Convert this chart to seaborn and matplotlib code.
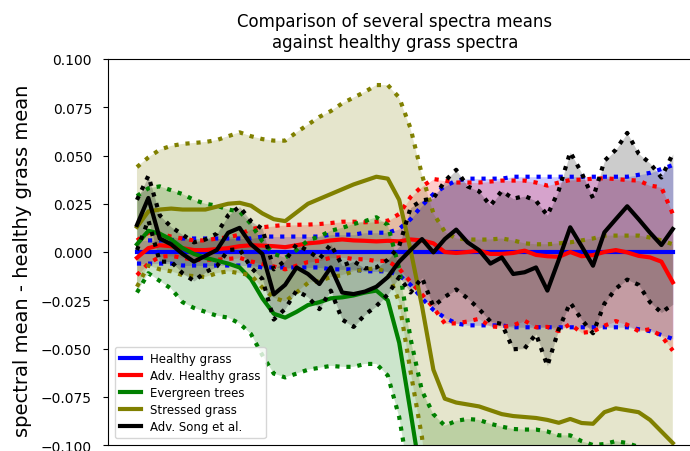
import numpy as np
import pandas as pd
import matplotlib
matplotlib.use("Agg")
import matplotlib.pyplot as plt
import seaborn as sns

# band index (48 spectral bands)
bands = list(range(48))

healthy_mean = [0.0] * 48
healthy_std = [0.006, 0.006, 0.006, 0.006, 0.007, 0.007, 0.007, 0.007, 0.007, 0.007,
               0.007, 0.008, 0.008, 0.008, 0.008, 0.008, 0.008, 0.009, 0.009, 0.009,
               0.010, 0.010, 0.010, 0.012, 0.017, 0.024, 0.030, 0.034, 0.037, 0.038,
               0.038, 0.038, 0.038, 0.039, 0.039, 0.039, 0.039, 0.039, 0.039, 0.039,
               0.039, 0.039, 0.039, 0.039, 0.040, 0.041, 0.043, 0.045]

adv_healthy_mean = [-0.003, 0.002, 0.0035, 0.003, 0.002, 0.001, 0.001, 0.0015, 0.002, 0.003,
                    0.0035, 0.0033, 0.003, 0.0025, 0.0035, 0.0045, 0.005, 0.006, 0.0065, 0.006,
                    0.0058, 0.0055, 0.0058, 0.0055, 0.0065, 0.006, 0.0045, 0.0, -0.0005, 0.0,
                    0.0007, -0.001, -0.001, -0.0005, 0.0007, -0.0015, -0.0022, -0.0025, 0.0, -0.0022,
                    -0.0016, 0.0, 0.001, -0.0002, -0.002, -0.0028, -0.005, -0.0157]
adv_healthy_std = [0.009, 0.008, 0.006, 0.005, 0.005, 0.005, 0.005, 0.0055, 0.0056, 0.006,
                   0.0084, 0.0095, 0.0105, 0.0115, 0.0106, 0.0097, 0.0095, 0.009, 0.0092, 0.0097,
                   0.0096, 0.0102, 0.0104, 0.0142, 0.022, 0.028, 0.0333, 0.037, 0.0365, 0.036,
                   0.0353, 0.0375, 0.038, 0.0375, 0.0363, 0.0375, 0.0366, 0.0385, 0.0373, 0.0397,
                   0.0396, 0.0382, 0.0368, 0.0375, 0.039, 0.0372, 0.0385, 0.0354]

evergreen_mean = [0.004, 0.011, 0.0095, 0.0065, 0.002, -0.001, -0.003, -0.0045, -0.006, -0.008,
                  -0.014, -0.024, -0.032, -0.034, -0.031, -0.0275, -0.026, -0.024, -0.0235, -0.0225,
                  -0.021, -0.02, -0.025, -0.047, -0.083, -0.12, -0.14, -0.148, -0.152, -0.155,
                  -0.154, -0.156, -0.158, -0.157, -0.159, -0.16, -0.161, -0.16, -0.162, -0.163,
                  -0.162, -0.161, -0.163, -0.164, -0.165, -0.166, -0.168, -0.17]
evergreen_std = [0.025, 0.022, 0.0245, 0.0255, 0.028, 0.028, 0.028, 0.0285, 0.028, 0.029,
                 0.0285, 0.0295, 0.031, 0.031, 0.032, 0.0335, 0.034, 0.035, 0.036, 0.037,
                 0.037, 0.038, 0.039, 0.0385, 0.038, 0.048, 0.056, 0.058, 0.0645, 0.0685,
                 0.067, 0.067, 0.0675, 0.0653, 0.067, 0.068, 0.068, 0.065, 0.067, 0.065,
                 0.062, 0.0615, 0.065, 0.065, 0.064, 0.062, 0.060, 0.058]

stressed_mean = [0.013, 0.021, 0.022, 0.0225, 0.022, 0.022, 0.022, 0.0235, 0.025, 0.0255,
                 0.024, 0.020, 0.017, 0.016, 0.0205, 0.025, 0.0275, 0.030, 0.0325, 0.035,
                 0.037, 0.039, 0.038, 0.027, 0.001, -0.028, -0.061, -0.076, -0.078, -0.079,
                 -0.080, -0.082, -0.084, -0.085, -0.0855, -0.086, -0.087, -0.0885, -0.0865, -0.0886,
                 -0.089, -0.083, -0.081, -0.082, -0.083, -0.087, -0.093, -0.099]
stressed_std = [0.031, 0.028, 0.031, 0.0325, 0.034, 0.0345, 0.035, 0.0345, 0.035, 0.0365,
                0.036, 0.0385, 0.0407, 0.0417, 0.0415, 0.041, 0.0425, 0.043, 0.0445, 0.045,
                0.046, 0.0475, 0.0485, 0.053, 0.063, 0.068, 0.081, 0.0865, 0.085, 0.0855,
                0.0864, 0.0885, 0.091, 0.091, 0.090, 0.090, 0.091, 0.093, 0.0915, 0.0946,
                0.096, 0.0915, 0.0895, 0.0905, 0.0915, 0.0945, 0.099, 0.103]

song_mean = [0.014, 0.028, 0.007, 0.004, -0.001, -0.005, -0.002, 0.001, 0.010, 0.0125,
             0.004, -0.001, -0.022, -0.017, -0.008, -0.0114, -0.0166, -0.008, -0.021, -0.0218,
             -0.0205, -0.018, -0.013, -0.005, 0.001, 0.0067, -0.0002, 0.0067, 0.0116, 0.005,
             0.001, -0.006, -0.0028, -0.0114, -0.0105, -0.008, -0.020, -0.004, 0.0128, 0.003,
             -0.0071, 0.0102, 0.017, 0.0237, 0.017, 0.010, 0.0036, 0.0119]
song_std = [0.013, 0.0115, 0.012, 0.009, 0.010, 0.010, 0.0085, 0.0085, 0.009, 0.011,
            0.012, 0.013, 0.013, 0.0125, 0.012, 0.012, 0.013, 0.012, 0.014, 0.017,
            0.012, 0.010, 0.009, 0.008, 0.022, 0.020, 0.028, 0.030, 0.031, 0.029,
            0.0305, 0.030, 0.0345, 0.039, 0.0395, 0.0345, 0.039, 0.036, 0.039, 0.038,
            0.035, 0.037, 0.036, 0.038, 0.034, 0.036, 0.035, 0.039]

series = [
    ("Healthy grass", healthy_mean, healthy_std, "blue"),
    ("Adv. Healthy grass", adv_healthy_mean, adv_healthy_std, "red"),
    ("Evergreen trees", evergreen_mean, evergreen_std, "green"),
    ("Stressed grass", stressed_mean, stressed_std, "olive"),
    ("Adv. Song et al.", song_mean, song_std, "black"),
]

fig = plt.figure(figsize=(6.9, 4.52), dpi=100)
ax = fig.add_axes([108 / 690, 6 / 452, 594 / 690, 386 / 452])

for name, mean, std, color in series:
    df = pd.DataFrame({"band": bands, "mean": mean, "std": std})
    df["upper"] = df["mean"] + df["std"]
    df["lower"] = df["mean"] - df["std"]
    ax.fill_between(df["band"], df["lower"], df["upper"], color=color, alpha=0.2, linewidth=0)
    sns.lineplot(data=df, x="band", y="mean", color=color, linewidth=3, label=name, ax=ax)
    sns.lineplot(data=df, x="band", y="upper", color=color, linewidth=3, linestyle=":", ax=ax)
    sns.lineplot(data=df, x="band", y="lower", color=color, linewidth=3, linestyle=":", ax=ax)

ax.set_xlim(-2.54, 49.56)
ax.set_ylim(-0.1, 0.1)
ax.set_yticks([-0.1, -0.075, -0.05, -0.025, 0.0, 0.025, 0.05, 0.075, 0.1])
ax.set_xticks([])
ax.set_xlabel("")
ax.set_ylabel("spectral mean - healthy grass mean", fontsize=14)
ax.yaxis.set_label_coords(-0.128, 0.48)
ax.tick_params(axis="y", labelsize=10, pad=8)
ax.set_title("Comparison of several spectra means\nagainst healthy grass spectra",
             fontsize=12, x=0.483, pad=9)

handles, labels = ax.get_legend_handles_labels()
ax.legend(handles[:5], labels[:5], loc="lower left", fontsize=8.5,
          labelspacing=0.35, borderaxespad=0.6, handlelength=1.8)

fig.savefig("out.png", dpi=100)
